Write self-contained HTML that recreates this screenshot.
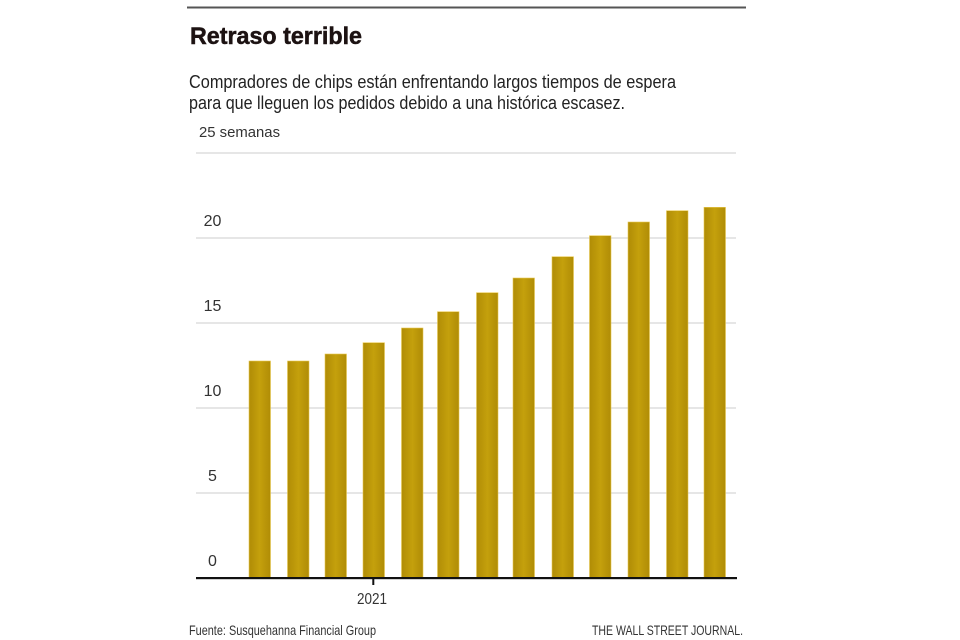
<!DOCTYPE html>
<html>
<head>
<meta charset="utf-8">
<style>
  html,body{margin:0;padding:0;background:#fff;}
  svg{display:block;}
  text{font-family:"Liberation Sans", sans-serif;}
</style>
</head>
<body>
<svg width="960" height="640" viewBox="0 0 960 640" xmlns="http://www.w3.org/2000/svg">
  <defs>
    <linearGradient id="bar" x1="0" x2="1" y1="0" y2="0">
      <stop offset="0" stop-color="#b08c06"/>
      <stop offset="0.5" stop-color="#c4a00c"/>
      <stop offset="1" stop-color="#b08c06"/>
    </linearGradient>
  </defs>
  <rect width="960" height="640" fill="#fff"/>
  <!-- top rule -->
  <rect x="187" y="6.5" width="559" height="2" fill="#555"/>

  <!-- title -->
  <text x="190" y="44" font-size="24" font-weight="bold" fill="#1c1212" stroke="#1c1212" stroke-width="0.5" textLength="172" lengthAdjust="spacingAndGlyphs">Retraso terrible</text>
  <!-- subtitle -->
  <text x="189" y="88" font-size="18" fill="#222" textLength="487" lengthAdjust="spacingAndGlyphs">Compradores de chips están enfrentando largos tiempos de espera</text>
  <text x="189" y="109" font-size="18" fill="#222" textLength="436" lengthAdjust="spacingAndGlyphs">para que lleguen los pedidos debido a una histórica escasez.</text>

  <!-- gridlines -->
  <g stroke="#dedede" stroke-width="1.5">
    <line x1="196" x2="736" y1="153" y2="153"/>
    <line x1="196" x2="736" y1="238" y2="238"/>
    <line x1="196" x2="736" y1="323" y2="323"/>
    <line x1="196" x2="736" y1="408" y2="408"/>
    <line x1="196" x2="736" y1="493" y2="493"/>
  </g>

  <!-- y labels -->
  <text x="199" y="137" font-size="15" fill="#333" textLength="81" lengthAdjust="spacingAndGlyphs">25 semanas</text>
  <g font-size="16" fill="#333" text-anchor="middle">
    <text x="212.5" y="226">20</text>
    <text x="212.5" y="311">15</text>
    <text x="212.5" y="396">10</text>
    <text x="212.5" y="481">5</text>
    <text x="212.5" y="566">0</text>
  </g>

  <!-- bars -->
  <g fill="url(#bar)" stroke="#e8c850" stroke-width="0.6">
    <rect x="249" y="361" width="21.5" height="217"/>
    <rect x="287.5" y="361" width="21.5" height="217"/>
    <rect x="325" y="354" width="21.5" height="224"/>
    <rect x="363" y="342.7" width="21.5" height="235.3"/>
    <rect x="401.5" y="328" width="21.5" height="250"/>
    <rect x="437.5" y="311.7" width="21.5" height="266.3"/>
    <rect x="476.5" y="292.7" width="21.5" height="285.3"/>
    <rect x="513" y="278" width="21.5" height="300"/>
    <rect x="552" y="256.7" width="21.5" height="321.3"/>
    <rect x="589.5" y="235.7" width="21.5" height="342.3"/>
    <rect x="628" y="222" width="21.5" height="356"/>
    <rect x="666.5" y="210.7" width="21.5" height="367.3"/>
    <rect x="704" y="207.3" width="21.5" height="370.7"/>
  </g>

  <!-- axis -->
  <rect x="196" y="577" width="541" height="2.2" fill="#111"/>
  <rect x="372.3" y="578" width="2" height="7" fill="#111"/>
  <text x="372" y="604" font-size="16" fill="#333" text-anchor="middle" textLength="30" lengthAdjust="spacingAndGlyphs">2021</text>

  <!-- footer -->
  <text x="189" y="635" font-size="14" fill="#333" textLength="187" lengthAdjust="spacingAndGlyphs">Fuente: Susquehanna Financial Group</text>
  <text x="592" y="635" font-size="14" fill="#333" textLength="151" lengthAdjust="spacingAndGlyphs">THE WALL STREET JOURNAL.</text>
</svg>
</body>
</html>
